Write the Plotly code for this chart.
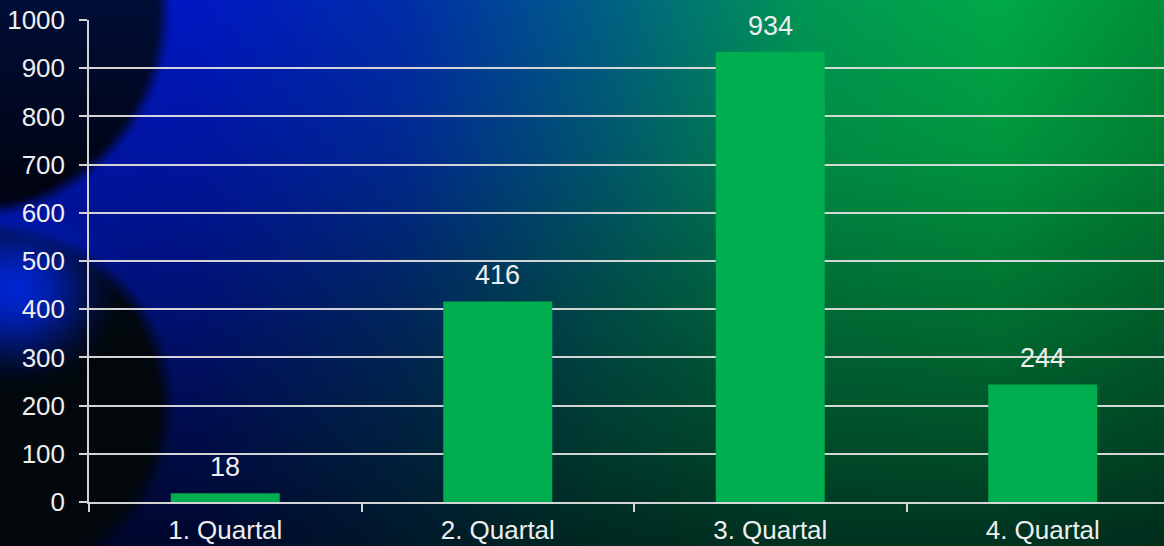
import base64
import struct
import zlib

import numpy as np
import plotly.graph_objects as go

# ---------------- data ----------------
categories = ["1. Quartal", "2. Quartal", "3. Quartal", "4. Quartal"]
values = [18, 416, 934, 244]
y_ticks = list(range(0, 1001, 100))

# ---------------- background picture (style only) ----------------
W, H = 1164, 546
S = 2
w, h = W // S, H // S
xs = (np.arange(w) + 0.5) * S
ys = (np.arange(h) + 0.5) * S
X, Y = np.meshgrid(xs, ys)

gx = np.array([0, 200, 400, 600, 800, 1000, 1164], dtype=float)
gy = np.array([0, 150, 300, 450, 546], dtype=float)
G = np.array([
    [(0, 20, 200), (0, 25, 195), (0, 45, 170), (0, 95, 135), (0, 150, 85), (0, 170, 72), (0, 142, 56)],
    [(0, 20, 170), (0, 22, 160), (0, 40, 145), (0, 85, 110), (0, 138, 70), (0, 150, 62), (0, 126, 50)],
    [(0, 15, 130), (0, 18, 115), (0, 38, 95), (0, 75, 72), (0, 108, 55), (0, 115, 50), (0, 96, 42)],
    [(0, 10, 80), (0, 12, 70), (0, 32, 60), (0, 58, 46), (0, 74, 42), (0, 78, 40), (0, 66, 35)],
    [(0, 5, 40), (0, 8, 45), (0, 25, 42), (0, 40, 32), (0, 50, 32), (0, 50, 32), (0, 44, 28)],
], dtype=float)

rows = np.stack([np.stack([np.interp(xs, gx, G[r, :, c]) for c in range(3)], axis=-1)
                 for r in range(len(gy))])  # (5, w, 3)
iy = np.clip(np.searchsorted(gy, ys) - 1, 0, len(gy) - 2)
ty = ((ys - gy[iy]) / (gy[iy + 1] - gy[iy]))[:, None, None]
img = rows[iy] * (1 - ty) + rows[iy + 1] * ty


def smooth(e0, e1, v):
    t = np.clip((v - e0) / (e1 - e0), 0, 1)
    return t * t * (3 - 2 * t)


def blend(base, col, m):
    return base * (1 - m[..., None]) + np.array(col, dtype=float) * m[..., None]


# upper dark sphere
d1 = np.hypot(X + 40, Y - 10)
m1 = 1 - smooth(195, 214, d1)
tv = np.clip(Y / 210, 0, 1)[..., None]
inner1 = np.array([0, 14, 55.0]) * (1 - tv) + np.array([0, 3, 14.0]) * tv
img = img * (1 - m1[..., None]) + inner1 * m1[..., None]

# lower dark sphere
d2 = np.hypot(X + 10, Y - 405)
m2 = 1 - smooth(165, 188, d2)
img = blend(img, (2, 8, 12), m2)

# blue glow between spheres
d3 = np.hypot((X - 15) * 0.9, Y - 290)
m3 = (1 - smooth(0, 105, d3)) * 0.9
img = blend(img, (0, 40, 230), m3)

arr = np.clip(img, 0, 255).astype(np.uint8)
raw = b"".join(b"\x00" + arr[r].tobytes() for r in range(h))


def chunk(tag, data):
    c = struct.pack(">I", len(data)) + tag + data
    return c + struct.pack(">I", zlib.crc32(tag + data) & 0xFFFFFFFF)


png = (b"\x89PNG\r\n\x1a\n"
       + chunk(b"IHDR", struct.pack(">IIBBBBB", w, h, 8, 2, 0, 0, 0))
       + chunk(b"IDAT", zlib.compress(raw, 9))
       + chunk(b"IEND", b""))
bg_src = "data:image/png;base64," + base64.b64encode(png).decode()

# ---------------- figure ----------------
ML, MT, MB = 89, 20, 44
PW, PH = W - ML, H - MT - MB

FONT = "Liberation Sans, Arial, sans-serif"
TXT = "#EEEEEE"
GRID = "rgba(222,222,222,0.95)"
BAR = "#00AD4F"

fig = go.Figure()
fig.add_trace(go.Bar(
    x=categories, y=values, width=0.4,
    marker=dict(color=BAR, line=dict(width=0)),
    hoverinfo="x+y",
))

for c, v in zip(categories, values):
    fig.add_annotation(x=c, y=v, text=str(v), showarrow=False,
                       yanchor="bottom", yshift=9,
                       font=dict(family=FONT, size=27, color=TXT))

fig.add_layout_image(dict(
    source=bg_src, xref="paper", yref="paper",
    x=-ML / PW, y=1 + MT / PH, sizex=W / PW, sizey=H / PH,
    xanchor="left", yanchor="top", sizing="stretch", layer="below",
))

fig.update_layout(
    width=W, height=H,
    margin=dict(l=ML, r=0, t=MT, b=MB, pad=0, autoexpand=False),
    paper_bgcolor="rgba(0,0,0,0)",
    plot_bgcolor="rgba(0,0,0,0)",
    showlegend=False,
    bargap=0.6,
    font=dict(family=FONT, size=26, color=TXT),
    xaxis=dict(
        type="category",
        range=[-0.5, -0.5 + 4 * PW / (4 * 272.5)],
        showgrid=False, zeroline=False,
        showline=True, linecolor=GRID, linewidth=1.5,
        ticks="outside", tickson="boundaries", ticklen=8, tickwidth=1.5, tickcolor=GRID,
        ticklabelstandoff=4,
        tickfont=dict(family=FONT, size=26, color=TXT),
        automargin=False,
        fixedrange=True,
    ),
    yaxis=dict(
        range=[0, 1000],
        tickvals=y_ticks,
        showgrid=True, gridcolor=GRID, gridwidth=1.5,
        zeroline=False,
        showline=True, linecolor=GRID, linewidth=1.5,
        ticks="outside", ticklen=8, tickwidth=1.5, tickcolor=GRID,
        ticklabelstandoff=9,
        tickfont=dict(family=FONT, size=26, color=TXT),
        automargin=False,
        fixedrange=True,
    ),
)

fig.write_html("out.html")
